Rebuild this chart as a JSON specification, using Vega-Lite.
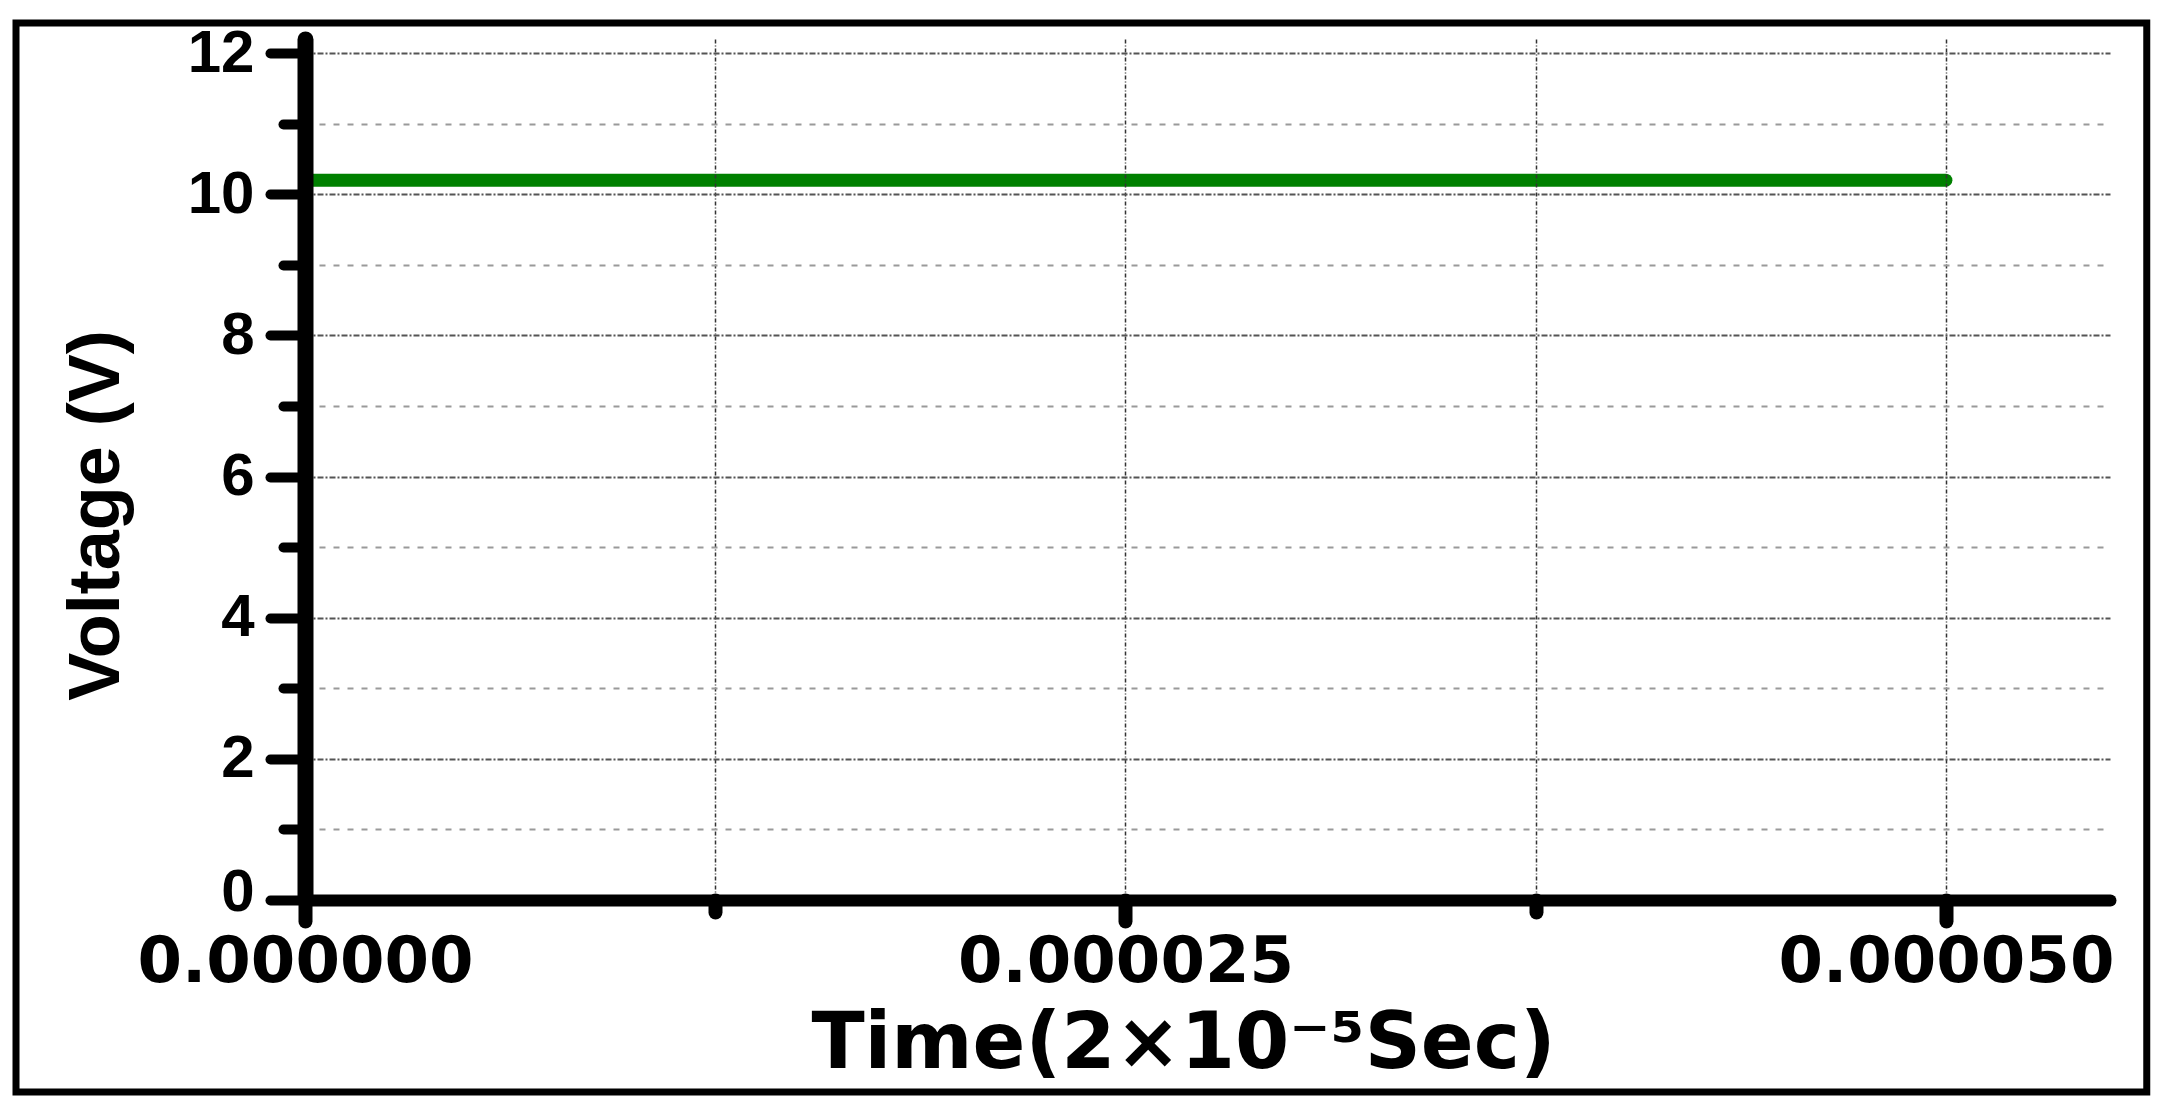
{
  "$schema": "https://vega.github.io/schema/vega-lite/v6.json",
  "width": 1805,
  "height": 861,
  "autosize": {"type": "none"},
  "padding": {"left": 305, "top": 39, "right": 60, "bottom": 219},
  "background": "white",
  "config": {"view": {"stroke": null}},
  "layer": [
    {
      "data": {"values": [
        {"t": 0, "v": 10.2},
        {"t": 0.00001, "v": 10.2},
        {"t": 0.00002, "v": 10.2},
        {"t": 0.00003, "v": 10.2},
        {"t": 0.00004, "v": 10.2},
        {"t": 0.00005, "v": 10.2}
      ]},
      "mark": {"type": "line", "color": "#008000", "strokeWidth": 13, "strokeCap": "round"},
      "encoding": {
        "x": {
          "field": "t", "type": "quantitative",
          "scale": {"domain": [0, 0.000055], "nice": false, "zero": false},
          "axis": {
            "title": "Time(2×10⁻⁵Sec)",
            "values": [0, 0.0000125, 0.000025, 0.0000375, 0.00005],
            "format": ".6f",
            "labelExpr": "abs(datum.value*40000 - round(datum.value*40000)) < 0.001 ? datum.label : ''",
            "labelFont": "DejaVu Sans", "labelFontWeight": "bold", "labelFontSize": 64, "labelColor": "black",
            "labelBaseline": "top", "labelPadding": 9, "labelFlush": false, "labelOverlap": false, "labelBound": false, "labelLimit": 0,
            "domainColor": "black", "domainWidth": 12, "domainCap": "round",
            "tickColor": "black", "tickWidth": 14, "tickCap": "round",
            "tickSize": {"condition": {"test": "abs(datum.value*40000 - round(datum.value*40000)) < 0.001", "value": 21}, "value": 12},
            "grid": true, "gridColor": "#333333", "gridDash": [4, 2, 1, 2], "gridWidth": 1.5,
            "titleFont": "DejaVu Sans", "titleFontWeight": "bold", "titleFontSize": 78, "titleColor": "black",
            "titleX": 878, "titleY": 167, "titleBaseline": "alphabetic", "titleAlign": "center", "titleLimit": 0,
            "zindex": 1
          }
        },
        "y": {
          "field": "v", "type": "quantitative",
          "scale": {"domain": [0, 12.2], "nice": false, "zero": false},
          "axis": {
            "title": "Voltage (V)",
            "values": [0, 1, 2, 3, 4, 5, 6, 7, 8, 9, 10, 11, 12],
            "format": "d",
            "labelExpr": "datum.value % 2 === 0 ? datum.label : ''",
            "labelFont": "Liberation Sans", "labelFontWeight": "bold", "labelFontSize": 60, "labelColor": "black",
            "labelOffset": {"condition": {"test": "datum.value === 0", "value": -8}, "value": 0},
            "labelPadding": 16, "labelFlush": false, "labelOverlap": false, "labelBound": false, "labelLimit": 0,
            "domainColor": "black", "domainWidth": 16, "domainCap": "round",
            "tickColor": "black", "tickWidth": 10, "tickCap": "round",
            "tickSize": {"condition": {"test": "datum.value % 2 === 0", "value": 35}, "value": 22},
            "grid": true,
            "gridColor": {"condition": {"test": "datum.value % 2 === 0", "value": "#555555"}, "value": "#9a9a9a"},
            "gridDash": {"condition": {"test": "datum.value % 2 === 0", "value": [6, 2, 2, 2]}, "value": [6, 8]},
            "gridWidth": 2,
            "titleFont": "Liberation Sans", "titleFontWeight": "bold", "titleFontSize": 72, "titleColor": "black",
            "titleX": -187, "titleY": 476, "titleBaseline": "alphabetic", "titleAlign": "center", "titleLimit": 0,
            "zindex": 1
          }
        }
      }
    },
    {
      "data": {"values": [{"frame": 1}]},
      "mark": {"type": "rect", "fill": null, "stroke": "black", "strokeWidth": 7, "clip": false},
      "encoding": {
        "x": {"datum": -0.000008806, "type": "quantitative"},
        "x2": {"datum": 0.00005612},
        "y": {"datum": 12.426, "type": "quantitative"},
        "y2": {"datum": -2.72}
      }
    }
  ]
}
